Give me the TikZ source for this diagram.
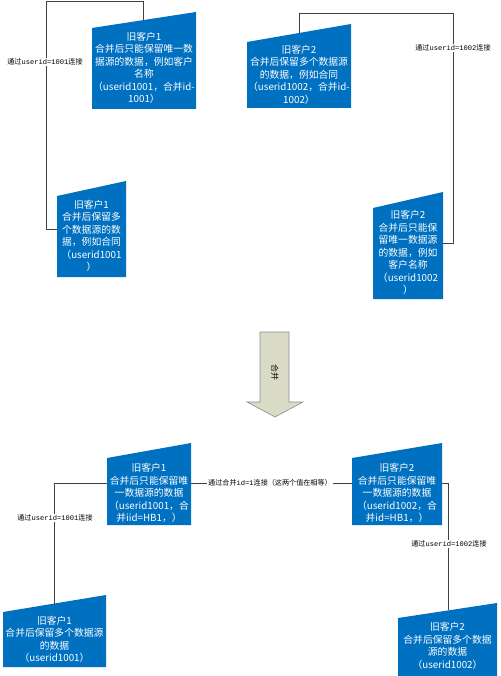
\documentclass[tikz,border=0pt]{standalone}
\usepackage{fontspec}
\setmainfont{Noto Sans CJK SC}
\newfontfamily\monof{Liberation Mono}
\definecolor{boxblue}{HTML}{0070C0}
\definecolor{linegray}{HTML}{404040}
\definecolor{arrowfill}{HTML}{DADBC6}
\definecolor{arrowline}{HTML}{8C8C8C}
\tikzset{
  boxfill/.style={fill=boxblue},
  boxtext/.style={text=white, align=center, inner sep=0pt,
    font=\fontsize{9.8}{12.5}\selectfont},
  conn/.style={draw=linegray, line width=0.8pt},
  lbl/.style={fill=white, inner sep=1pt, text=black,
    font=\fontsize{7.1}{8}\selectfont},
}
\newcommand\mo[1]{{\monof #1}}
\begin{document}
\begin{tikzpicture}[x=1pt,y=-1pt]
\useasboundingbox (0,0) rectangle (500,676);

% ---- shapes ----
\fill[boxfill] (92,28) -- (196,12) -- (196,109) -- (92,109) -- cycle;
\node[boxtext] (A) at (144,68) {旧客户1\\合并后只能保留唯一数\\据源的数据，例如客户\\名称\\（userid1001，合并id-\\1001）};

\fill[boxfill] (57,196) -- (126,181) -- (126,277) -- (57,277) -- cycle;
\node[boxtext] (B) at (91.5,236) {旧客户1\\合并后保留多\\个数据源的数\\据，例如合同\\（userid1001\\）};

\fill[boxfill] (247,42) -- (351,24) -- (351,108) -- (247,108) -- cycle;
\node[boxtext] (C) at (299,74.5) {旧客户2\\合并后保留多个数据源\\的数据，例如合同\\（userid1002，合并id-\\1002）};

\fill[boxfill] (373,208) -- (443,192) -- (443,299) -- (373,299) -- cycle;
\node[boxtext] (D) at (408,252.5) {旧客户2\\合并后只能保\\留唯一数据源\\的数据，例如\\客户名称\\（userid1002\\）};

\fill[boxfill] (107,458) -- (191,443) -- (191,525) -- (107,525) -- cycle;
\node[boxtext] (E) at (149,493) {旧客户1\\合并后只能保留唯\\一数据源的数据\\（userid1001，合\\并iid=HB1，）};

\fill[boxfill] (352,458) -- (442,443) -- (442,525) -- (352,525) -- cycle;
\node[boxtext] (F) at (397,493) {旧客户2\\合并后只能保留唯\\一数据源的数据\\（userid1002，合\\并id=HB1，）};

\fill[boxfill] (3,612) -- (106,595) -- (106,667) -- (3,667) -- cycle;
\node[boxtext] (G) at (54.5,639.5) {旧客户1\\合并后保留多个数据源\\的数据\\（userid1001）};

\fill[boxfill] (398,618) -- (497,603) -- (497,676) -- (398,676) -- cycle;
\node[boxtext] (H) at (447.5,646) {旧客户2\\合并后保留多个数据\\源的数据\\（userid1002）};

% ---- attach points ----
\coordinate (Atop) at (143,20.2);
\coordinate (Bleft) at (57,229);
\coordinate (Ctop) at (299,33);
\coordinate (Dright) at (443,243);
\coordinate (Eleft) at (107,483);
\coordinate (Eright) at (191,483);
\coordinate (Fleft) at (352,483);
\coordinate (Fright) at (442,483);
\coordinate (Gtop) at (54,603.6);
\coordinate (Htop) at (448,610.4);
\coordinate (c1) at (46,1);
\coordinate (c2) at (453,13);

% ---- connectors ----
\draw[conn] (Atop) |- (c1) |- (Bleft);
\draw[conn] (Ctop) |- (c2) |- (Dright);
\draw[conn] (Eleft) -| (Gtop);
\draw[conn] (Eright) -- (Fleft);
\draw[conn] (Fright) -| (Htop);

% ---- labels ----
\node[lbl] (L1) at (45,62) {通过\mo{userid=1001}连接};
\node[lbl] (L2) at (453,48) {通过\mo{userid=1002}连接};
\node[lbl] (L3) at (55,518) {通过\mo{userid=1001}连接};
\node[lbl] (L4) at (270,483) {通过合并\mo{id=1}连接（这两个值在相等）};
\node[lbl] (L5) at (449,544) {通过\mo{userid=1002}连接};

% ---- big arrow ----
\filldraw[fill=arrowfill, draw=arrowline, line width=0.6pt]
  (260,332) -- (289,332) -- (289,402) -- (303,402) -- (275,417) -- (247,402) -- (260,402) -- cycle;
\node[rotate=-90, font=\fontsize{8}{9}\selectfont, inner sep=0pt] (M) at (275,372) {合并};
\end{tikzpicture}
\end{document}
